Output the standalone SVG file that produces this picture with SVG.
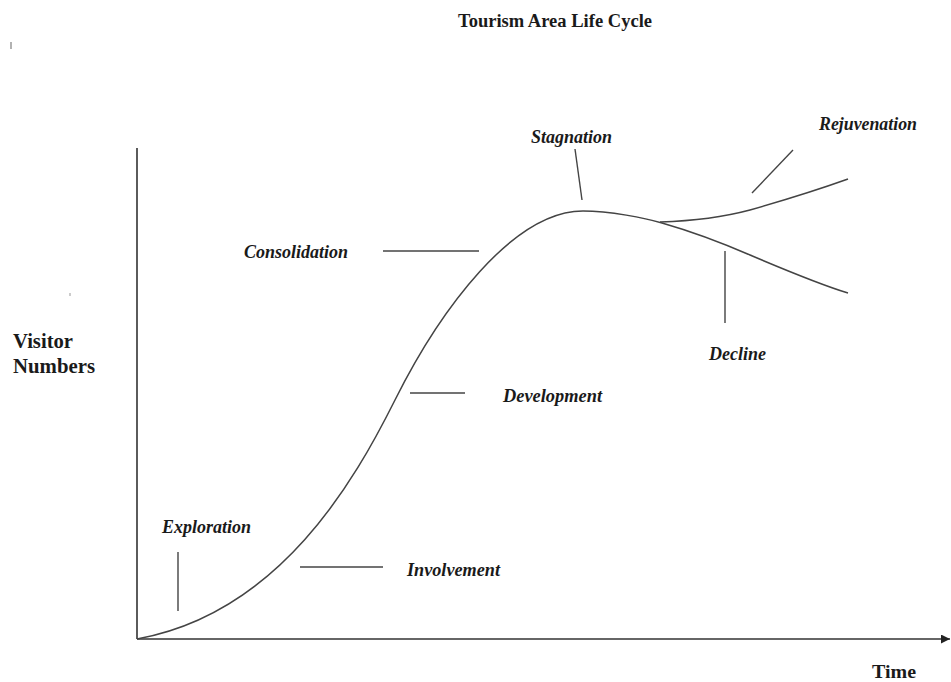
<svg xmlns="http://www.w3.org/2000/svg" width="951" height="682" viewBox="0 0 951 682">
  <defs>
    <style>
      .title { font-family: "Liberation Serif", "Times New Roman", serif; font-weight: bold; fill: #1a1a1a; }
      .lbl { font-family: "Liberation Serif", "Times New Roman", serif; font-weight: bold; font-style: italic; font-size: 18px; fill: #1a1a1a; }
      .ax { stroke: #333; stroke-width: 1.6; fill: none; }
      .crv { stroke: #444; stroke-width: 1.5; fill: none; }
      .tick { stroke: #444; stroke-width: 1.4; fill: none; }
    </style>
    <marker id="arr" viewBox="0 0 10 10" refX="10" refY="5" markerWidth="9" markerHeight="9" markerUnits="userSpaceOnUse" orient="auto">
      <path d="M0,0 L10,5 L0,10 Z" fill="#222"/>
    </marker>
  </defs>
  <rect width="951" height="682" fill="#fff"/>

  <text class="title" x="458" y="27" font-size="18" textLength="194" lengthAdjust="spacingAndGlyphs">Tourism Area Life Cycle</text>

  <!-- scan artefacts -->
  <line x1="11" y1="42" x2="11" y2="49" stroke="#999" stroke-width="1.5"/>
  <rect x="69" y="293" width="2" height="3" fill="#ccc"/>

  <g id="axes">
    <line class="ax" x1="137" y1="148" x2="137" y2="639"/>
    <line class="ax" x1="137" y1="639" x2="950" y2="639" marker-end="url(#arr)"/>
    <text class="title" x="13" y="348" font-size="20" textLength="60" lengthAdjust="spacingAndGlyphs">Visitor</text>
    <text class="title" x="13" y="373" font-size="20" textLength="82" lengthAdjust="spacingAndGlyphs">Numbers</text>
    <text class="title" x="872" y="678" font-size="19" textLength="44" lengthAdjust="spacingAndGlyphs">Time</text>
  </g>

  <g id="curves">
    <path class="crv" d="M137,639 C280,613 355,480 395,400 C440,310 513,211 583,211 C610,211 645,218 662,223 C690,231 720,242 750,255 C790,272 825,286 848,293"/>
    <path class="crv" d="M660,222 C690,221 720,218 750,210 C785,200 820,189 848,179"/>
  </g>

  <g id="exploration">
    <line class="tick" x1="178" y1="552" x2="178" y2="611"/>
    <text class="lbl" x="162" y="533" textLength="89" lengthAdjust="spacingAndGlyphs">Exploration</text>
  </g>
  <g id="involvement">
    <line class="tick" x1="300" y1="567" x2="383" y2="567"/>
    <text class="lbl" x="407" y="576" textLength="93" lengthAdjust="spacingAndGlyphs">Involvement</text>
  </g>
  <g id="development">
    <line class="tick" x1="410" y1="393" x2="465" y2="393"/>
    <text class="lbl" x="503" y="402" textLength="99" lengthAdjust="spacingAndGlyphs">Development</text>
  </g>
  <g id="consolidation">
    <line class="tick" x1="383" y1="251" x2="479" y2="251"/>
    <text class="lbl" x="244" y="258" textLength="104" lengthAdjust="spacingAndGlyphs">Consolidation</text>
  </g>
  <g id="stagnation">
    <line class="tick" x1="575" y1="149" x2="582" y2="200"/>
    <text class="lbl" x="531" y="143" textLength="81" lengthAdjust="spacingAndGlyphs">Stagnation</text>
  </g>
  <g id="rejuvenation">
    <line class="tick" x1="793" y1="150" x2="752" y2="193"/>
    <text class="lbl" x="819" y="130" textLength="98" lengthAdjust="spacingAndGlyphs">Rejuvenation</text>
  </g>
  <g id="decline">
    <line class="tick" x1="725" y1="251" x2="725" y2="323"/>
    <text class="lbl" x="709" y="360" textLength="57" lengthAdjust="spacingAndGlyphs">Decline</text>
  </g>
</svg>
